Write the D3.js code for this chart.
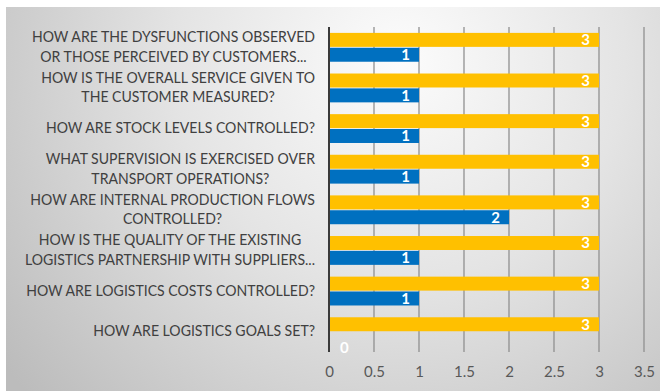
<!DOCTYPE html>
<html><head><meta charset="utf-8">
<script src="https://cdn.jsdelivr.net/npm/d3@7"></script>
<style>body{margin:0;background:#fff;}svg{display:block;}</style>
</head><body>
<svg id="c" width="669" height="391"></svg>
<script>
const categories = [
  ["HOW ARE THE DYSFUNCTIONS OBSERVED", "OR THOSE PERCEIVED BY CUSTOMERS..."],
  ["HOW IS THE OVERALL SERVICE GIVEN TO", "THE CUSTOMER MEASURED?"],
  ["HOW ARE STOCK LEVELS CONTROLLED?"],
  ["WHAT SUPERVISION IS EXERCISED OVER", "TRANSPORT OPERATIONS?"],
  ["HOW ARE INTERNAL PRODUCTION FLOWS", "CONTROLLED?"],
  ["HOW IS THE QUALITY OF THE EXISTING", "LOGISTICS PARTNERSHIP WITH SUPPLIERS..."],
  ["HOW ARE LOGISTICS COSTS CONTROLLED?"],
  ["HOW ARE LOGISTICS GOALS SET?"]
];
const seriesYellow = [3, 3, 3, 3, 3, 3, 3, 3];
const seriesBlue = [1, 1, 1, 1, 2, 1, 1, 0];
const tickValues = [0, 0.5, 1, 1.5, 2, 2.5, 3, 3.5];
const tickLabels = ["0", "0.5", "1", "1.5", "2", "2.5", "3", "3.5"];

const svg = d3.select("#c");
const defs = svg.append("defs");
const rg = defs.append("radialGradient").attr("id", "bg")
  .attr("gradientUnits", "userSpaceOnUse")
  .attr("cx", 400).attr("cy", 60).attr("r", 500);
rg.append("stop").attr("offset", "0").attr("stop-color", "#fcfcfc");
rg.append("stop").attr("offset", "0.45").attr("stop-color", "#e4e4e4");
rg.append("stop").attr("offset", "1").attr("stop-color", "#bcbcbc");

svg.append("rect").attr("x", 6).attr("y", 7).attr("width", 654).attr("height", 384)
  .attr("fill", "url(#bg)");

const x = d3.scaleLinear().domain([0, 3.5]).range([329, 644]);
const y = d3.scaleBand().domain(d3.range(categories.length)).range([27, 352])
  .paddingInner(0.29).paddingOuter(0.145);
const sub = d3.scaleBand().domain(["y", "b"]).range([0, y.bandwidth()]).paddingInner(0.06);

// gridlines
svg.append("g").selectAll("line").data(tickValues.slice(1)).join("line")
  .attr("x1", d => x(d)).attr("x2", d => x(d))
  .attr("y1", 27).attr("y2", 352)
  .attr("stroke", "#909090").attr("stroke-width", 1.3);

// tick labels via axis
const ax = svg.append("g").attr("transform", "translate(0,366)")
  .call(d3.axisBottom(x).tickValues(tickValues).tickFormat((d, i) => tickLabels[i]).tickSize(0).tickPadding(0));
ax.select(".domain").remove();
ax.selectAll("text").attr("font-family", "Lato, 'Open Sans', sans-serif").attr("font-size", 15)
  .attr("fill", "#595959").attr("dy", "0.71em");

const groups = svg.append("g").selectAll("g").data(categories).join("g")
  .attr("transform", (d, i) => `translate(0,${y(i)})`);

groups.append("rect").attr("x", x(0)).attr("y", sub("y"))
  .attr("width", (d, i) => x(seriesYellow[i]) - x(0)).attr("height", sub.bandwidth())
  .attr("fill", "#FFC000");
groups.append("rect").attr("x", x(0)).attr("y", sub("b"))
  .attr("width", (d, i) => x(seriesBlue[i]) - x(0)).attr("height", sub.bandwidth())
  .attr("fill", "#0070C0");

const lblFont = "Lato, 'Open Sans', sans-serif";
groups.append("text")
  .attr("x", (d, i) => x(seriesYellow[i]) - 9)
  .attr("y", sub("y") + sub.bandwidth() / 2).attr("dy", "0.36em")
  .attr("text-anchor", "end").attr("fill", "#fff").attr("font-weight", "bold")
  .attr("font-family", lblFont).attr("font-size", 15)
  .text((d, i) => seriesYellow[i]);
groups.append("text")
  .attr("x", (d, i) => seriesBlue[i] === 0 ? x(0) + 11 : x(seriesBlue[i]) - 9)
  .attr("y", (d, i) => seriesBlue[i] === 0 ? sub("b") + sub.bandwidth() / 2 + 8 : sub("b") + sub.bandwidth() / 2)
  .attr("dy", "0.36em")
  .attr("text-anchor", (d, i) => seriesBlue[i] === 0 ? "start" : "end")
  .attr("fill", "#fff").attr("font-weight", "bold")
  .attr("font-family", lblFont).attr("font-size", 15)
  .text((d, i) => seriesBlue[i]);

// axis line
svg.append("line").attr("x1", x(0)).attr("x2", x(0)).attr("y1", 27).attr("y2", 352)
  .attr("stroke", "#3a3a3a").attr("stroke-width", 2);

// category labels
const catG = svg.append("g");
const FS = 16;
const probe = catG.append("text").attr("font-family", lblFont).attr("font-size", FS)
  .text("HOW ARE THE DYSFUNCTIONS OBSERVED");
const k = 283 / probe.node().getComputedTextLength();
probe.remove();
const rightEdge = 315;
const lineH = 19.5;
categories.forEach((lines, i) => {
  const cy = y(i) + y.bandwidth() / 2 - 1;
  const widths = lines.map(t => {
    const p = catG.append("text").attr("font-family", lblFont).attr("font-size", FS).text(t);
    const w = p.node().getComputedTextLength() * k; p.remove(); return w;
  });
  const maxW = d3.max(widths);
  const cx = rightEdge - maxW / 2;
  lines.forEach((t, j) => {
    catG.append("text")
      .attr("x", cx).attr("y", cy + (j - (lines.length - 1) / 2) * lineH)
      .attr("dy", "0.36em").attr("text-anchor", "middle")
      .attr("font-family", lblFont).attr("font-size", FS).attr("fill", "#404040")
      .attr("textLength", widths[j]).attr("lengthAdjust", "spacingAndGlyphs")
      .text(t);
  });
});
</script>
</body></html>
